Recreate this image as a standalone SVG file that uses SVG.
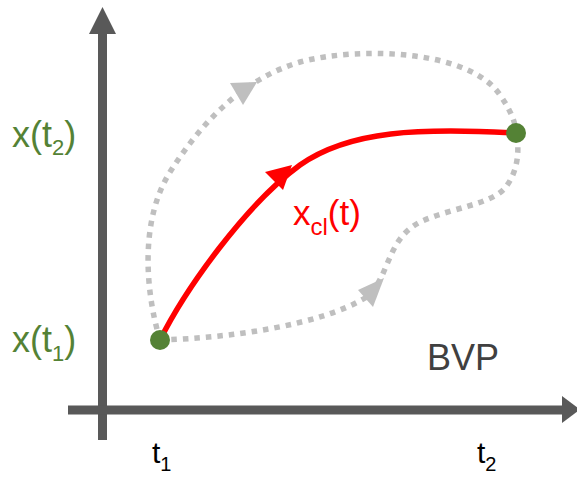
<svg xmlns="http://www.w3.org/2000/svg" width="577" height="480" viewBox="0 0 577 480">
<style>
.axis{stroke:#595959;stroke-width:9;fill:none}
.axhead{fill:#595959}
.dotted{stroke:#bfbfbf;stroke-width:5.5;fill:none;stroke-dasharray:5.5 6}
.ghead{fill:#bfbfbf}
.red{stroke:#ff0000;stroke-width:5.5;fill:none}
.rhead{fill:#ff0000}
.pt{fill:#548235}
text{font-family:"Liberation Sans",Arial,sans-serif}
.green{fill:#548235;font-size:36px}
.black{fill:#000;font-size:30px}
</style>
<rect width="577" height="480" fill="#fff"/>
<g id="axes">
  <line class="axis" x1="102.5" y1="440" x2="102.5" y2="30"/>
  <polygon class="axhead" points="89,34 116,34 102.5,7"/>
  <line class="axis" x1="68" y1="410" x2="565" y2="410"/>
  <polygon class="axhead" points="562,396 562,423 580,409.5"/>
</g>
<g id="connectors">
  <path class="dotted" d="M160,340 C145,290 140,220 170,172 C200,125 240,80 300,62 C360,46 470,50 500,95 C512,112 516,125 516,133"/>
  <polygon class="ghead" points="230,83 243,105 257,82"/>
  <path class="dotted" d="M160,340 C230,338 320,325 365,298 C390,280 385,240 420,222 C450,208 490,205 505,188 C518,172 520,150 516,133"/>
  <polygon class="ghead" points="358,290 373,307 384,278"/>
  <path class="red" d="M160,340 C185,290 245,205 300,165 C350,130 420,128 516,133"/>
  <polygon class="rhead" points="265,172 283,190 292,165"/>
</g>
<g id="p1"><circle class="pt" cx="160" cy="340" r="10"/></g>
<g id="p2"><circle class="pt" cx="516" cy="133" r="10"/></g>
<g id="labels">
  <text class="green" x="12" y="147">x(t<tspan font-size="22" dy="8">2</tspan><tspan dy="-8">)</tspan></text>
  <text class="green" x="12" y="352">x(t<tspan font-size="22" dy="9">1</tspan><tspan dy="-9">)</tspan></text>
  <text x="293" y="225" font-size="35" fill="#ff0000">x<tspan font-size="24" dy="10">cl</tspan><tspan dy="-10">(t)</tspan></text>
  <text class="black" x="152" y="463">t<tspan font-size="20" dy="8">1</tspan></text>
  <text class="black" x="477" y="463">t<tspan font-size="20" dy="8">2</tspan></text>
  <text x="427" y="370" font-size="36" fill="#404040">BVP</text>
</g>
</svg>
